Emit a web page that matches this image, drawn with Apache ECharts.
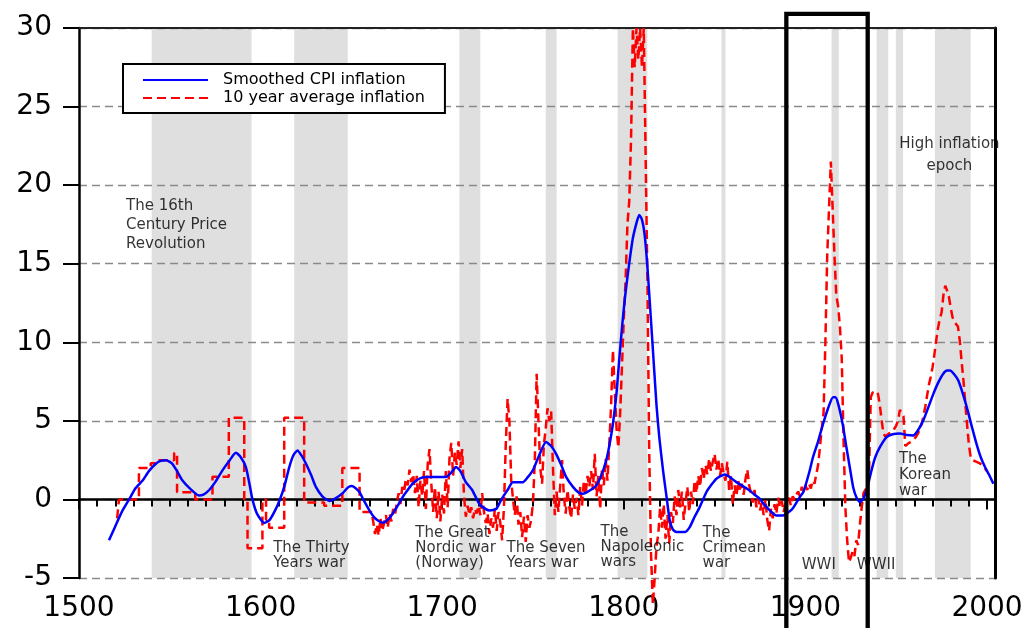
<!DOCTYPE html>
<html><head><meta charset="utf-8">
<script src="https://cdn.jsdelivr.net/npm/echarts@6/dist/echarts.min.js"></script>
<style>html,body{margin:0;padding:0;background:#fff}#c{width:1033px;height:628px}</style>
</head><body><div id="c"></div>
<script>
// ---------------- data ----------------
const seriesNames = ['Smoothed CPI inflation', '10 year average inflation'];

// Smoothed CPI inflation [year, %]
const blueEarly = [
[1516.5,-2.6],[1520,-1.7],[1524,-0.7],[1527.6,0],[1531,0.7],[1535,1.2],[1538.5,1.8],[1542.3,2.27],[1545,2.45],[1548,2.5],
[1551.4,2.27],[1554,1.8],[1557,1.2],[1561,0.7],[1566,0.25],[1568.5,0.3],[1571.7,0.6],[1575,1.1],[1579,1.85],[1583,2.5],
[1586.4,2.97],[1589,2.7],[1591.9,2.06],[1594,0.9],[1595.5,0],[1598,-0.9],[1602,-1.5],[1605,-1.3],[1608,-0.7],[1610.3,-0.1],
[1613,0.8],[1615.8,2.06],[1618,2.8],[1620.3,3.12],[1622.5,2.8],[1625,2.27],[1628,1.5],[1630.5,0.78],[1634,0.2],[1637.8,-0.1],
[1641,0.05],[1645.2,0.4],[1648,0.75],[1650,0.85],[1652,0.75],[1654.4,0.47],[1657,-0.1],[1659.9,-0.7],[1663,-1.2],[1667.2,-1.49],
[1670,-1.3],[1672.7,-0.91],[1675.5,-0.4],[1678.2,0.15],[1681,0.6],[1683.7,1.0],[1687,1.3],[1691,1.42],[1702,1.42],[1705,1.7],
[1707.6,2.06],[1710,1.8],[1713,1.1],[1716.5,0.6],[1720,-0.2],[1722.3,-0.49],[1726,-0.7],[1729.7,-0.6],[1731.5,-0.25],[1733.4,0.15],
[1736,0.6],[1738.9,1.1],[1744.4,1.1],[1747,1.4],[1749.9,1.85],[1753,2.7],[1757.2,3.65],[1760,3.4],[1762.7,2.9],[1765.5,2.2],
[1768.3,1.42],[1772,0.8],[1775,0.45],[1777.5,0.36],[1781,0.55],[1784.8,0.89],[1787.5,1.5],[1790.3,2.48],[1792,3.4],[1794,4.8],
[1796,6.8],[1797.7,9.2],[1799.3,11.3]
];
const blueLate = [
[1801,13.2],[1804.8,16.5],[1807,17.6],[1808.5,18.1],[1810,17.8],[1811.5,16.8],[1813,14.8],[1815.7,10.1],[1818,6.0],[1819.5,4.0],
[1821.6,1.85],[1823.5,0.2],[1825.3,-1.34],[1827,-1.9],[1828.9,-2.08],[1833.5,-2.08],[1836.3,-1.76],[1839,-1.1],[1841.8,-0.49],[1845.5,0.47],
[1848,0.9],[1851,1.32],[1855.6,1.59],[1858,1.45],[1862,1.1],[1865.5,0.85],[1869.3,0.57],[1872,0.3],[1874.9,0.04],[1877.5,-0.35],
[1880.4,-0.7],[1884,-1.02],[1887.7,-1.02],[1891.4,-0.75],[1893.2,-0.55],[1896.9,0.15],[1899,0.5],[1902.4,1.85],[1904.2,2.7],[1907,3.7],
[1909.7,4.8],[1912.5,5.8],[1915.2,6.5],[1916.5,6.5],[1918,6.1],[1920.5,4.8],[1922.6,3.3],[1924.5,2.0],[1926.3,0.78],[1928.2,0.1],
[1930,-0.17],[1931.8,0.05],[1933.7,0.57],[1936.4,1.85],[1938.5,2.7],[1941,3.33],[1944.7,3.97],[1948,4.15],[1952,4.2],[1956,4.1],
[1959.4,4.07],[1962,4.4],[1964.9,5.03],[1967.5,5.8],[1970.4,6.7],[1973,7.4],[1975.9,8.0],[1978,8.2],[1979.6,8.2],[1982,7.95],
[1984.2,7.57],[1986.5,6.8],[1988.8,5.9],[1991.5,4.7],[1994.3,3.5],[1996.5,2.7],[1998.9,2.06],[2001,1.6],[2003.5,1.0]
];

// 10 year average inflation [year, %]
const redSteps = [
[1521,-1.2],[1522,-1.2],[1522,0],[1533,0],[1533,2.0],[1539.5,2.0],[1539.5,2.3],[1544,2.3],[1544,2.5],[1552.4,2.5],
[1552.4,2.95],[1554,2.95],[1554,0.45],[1564,0.45],[1564,0],[1573.5,0],[1573.5,1.45],[1582.5,1.45],[1582.5,5.2],[1591,5.2],
[1591,0],[1592.8,0],[1592.8,-3.1],[1601,-3.1],[1601,0],[1603,0],[1603,-1.3],[1604.7,-1.3],[1604.7,-1.8],[1613,-1.8],
[1613,5.2],[1624,5.2],[1624,-0.2],[1635,-0.2],[1635,-0.4],[1645,-0.4],[1645,2.0],[1654.5,2.0],[1654.5,-0.8],[1661,-0.8]
];
const red1700s = [
[1662,-1.4],[1663,-2.2],[1664,-1.6],[1665,-2.3],[1666,-1.2],[1667,-2.0],[1668,-1.5],[1669,-1.0],[1670,-1.8],[1671,-0.9],
[1672,-1.4],[1673,-0.6],[1674,-1.0],[1675,-0.2],[1676,0.4],[1677,-0.3],[1678,0.8],[1679,0.5],[1680,1.3],[1681,0.9],
[1682,1.9],[1683,1.1],[1684,1.6],[1685,0.4],[1686,1.5],[1687,-0.5],[1688,1.2],[1689,0.2],[1690,1.8],[1691,-0.6],
[1692,2.2],[1693,3.2],[1694,1.0],[1695,-0.8],[1696,0.8],[1697,-1.2],[1698,0.5],[1699,-1.4],[1700,0.3],[1701,-0.9],
[1702,1.8],[1703,-0.5],[1704,2.6],[1705,3.6],[1706,1.5],[1707,3.0],[1708,2.2],[1709,3.7],[1710,2.0],[1711,3.2],
[1712,0.2],[1713,-1.1],[1714,-0.4],[1715,-1.0],[1716,-0.5],[1717,-1.2],[1718,-0.6],[1719,-0.9],[1720,-0.4],[1721,-1.0],
[1722,0.4],[1723,-0.8],[1724,-1.5],[1725,-0.9],[1726,-2.2],[1727,-1.2],[1728,-1.8],[1729,-0.6],[1730,-2.0],[1731,-0.8],
[1732,-1.5],[1733,-2.6],[1734,-0.5],[1735,3.5],[1736,6.4],[1737,5.0],[1738,1.2],[1739,0.0],[1740,-1.0],[1741,0.2],
[1742,-1.6],[1743,-0.8],[1744,-2.4],[1745,-1.1],[1746,-2.7],[1747,-1.0],[1748,-1.8],[1749,-1.3],[1750,-0.2],[1751,2.5],
[1752,8.0],[1753,5.0],[1754,2.0],[1755,1.0],[1756,3.5],[1757,4.5],[1758,5.8],[1759,5.0],[1760,5.6],[1761,2.0],
[1762,-1.0],[1763,0.5],[1764,-0.8],[1765,0.9],[1766,2.5],[1767,0.2],[1768,-0.9],[1769,0.6],[1770,-0.5],[1771,-1.2],
[1772,0.3],[1773,-0.6],[1774,0.1],[1775,-1.0],[1776,0.8],[1777,-0.4],[1778,1.2],[1779,0.3],[1780,1.5],[1781,0.8],
[1782,1.8],[1783,0.6],[1784,2.9],[1785,0.2],[1786,1.5],[1787,-0.6],[1788,2.0],[1789,0.9],[1790,2.6],[1791,1.2],
[1792,3.5],[1793,6.0],[1794,9.5],[1795,7.0],[1796,4.5],[1797,3.3],[1798,5.5],[1799,8.5]
];
const red1800s = [
[1800,11.5],[1801,14.0],[1802,17.5],[1803,19.0],[1804,23.0],[1805,30.0],[1806,27.5],[1807,30.0],[1808,28.0],[1809,30.0],
[1810,27.5],[1811,30.0],[1812,30.0],[1813,14.0],[1814,3.0],[1815,-3.5],[1816,-6.7],[1817,-5.0],[1818,-3.0],[1819,-2.2],
[1820,-0.5],[1821,-1.8],[1822,-0.3],[1823,-2.5],[1824,-1.0],[1825,-2.8],[1826,-0.8],[1827,-1.5],[1828,0.2],[1829,-1.0],
[1830,0.6],[1831,-0.5],[1832,0.5],[1833,-1.3],[1834,-0.2],[1835,0.8],[1836,-0.8],[1837,0.5],[1838,-0.3],[1839,1.2],
[1840,0.4],[1841,1.5],[1842,0.8],[1843,2.0],[1844,1.3],[1845,2.2],[1846,1.6],[1847,2.6],[1848,1.8],[1849,2.4],
[1850,2.9],[1851,1.9],[1852,2.6],[1853,1.5],[1854,2.3],[1855,1.6],[1856,1.2],[1857,2.4],[1858,0.6],[1859,1.5],
[1860,-0.3],[1861,0.9],[1862,0.2],[1863,1.2],[1864,0.5],[1865,1.0],[1866,0.3],[1867,1.3],[1868,1.9],[1869,0.9],
[1870,0.4],[1871,-0.2],[1872,0.6],[1873,-0.5],[1874,0.1],[1875,-0.7],[1876,-0.2],[1877,-1.0],[1878,0.0],[1879,-1.3],
[1880,-2.0],[1881,-0.6],[1882,-1.2],[1883,-0.3],[1884,-0.9],[1885,0.1],[1886,-0.5],[1887,-0.1],[1888,-0.8],[1889,-0.3],
[1890,-0.2],[1891,0.1],[1892,-0.4],[1893,0.2],[1894,0.0],[1895,0.3],[1896,0.5],[1897,0.2],[1898,0.8],[1899,0.5]
];
const red1900s = [
[1900,0.9],[1901,0.6],[1902,1.0],[1903,0.7],[1904,1.2],[1905,1.0],[1906,1.6],[1907,2.2],[1908,3.3],[1909,4.5],
[1910,5.5],[1911,10.0],[1912,15.5],[1913,18.5],[1914,21.5],[1915,18.5],[1916,15.5],[1917,13.0],[1918,12.3],[1919,11.0],
[1920,9.0],[1921,3.8],[1922,-0.5],[1923,-2.6],[1924,-4.0],[1925,-3.7],[1926,-3.3],[1927,-3.6],[1928,-2.6],[1929,-2.9],
[1930,-1.6],[1931,-0.5],[1932,0.4],[1933,0.6],[1934,0.8],[1935,1.5],[1936,6.5],[1937,6.8],[1938,6.9],[1939,6.9],
[1940,6.7],[1941,6.0],[1942,5.0],[1943,4.2],[1944,4.0],[1945,4.1],[1946,4.2],[1947,4.2],[1948,4.3],[1949,4.5],
[1950,4.7],[1951,5.0],[1952,5.7],[1953,5.6],[1954,5.3],[1955,3.4],[1956,3.4],[1957,3.6],[1958,3.7],[1959,3.7],
[1960,3.8],[1961,4.0],[1962,4.2],[1963,4.3],[1964,4.8],[1965,5.3],[1966,5.9],[1967,6.6],[1968,7.3],[1969,7.8],
[1970,8.4],[1971,9.2],[1972,10.1],[1973,10.9],[1974,11.5],[1975,11.9],[1976,13.0],[1977,13.6],[1978,13.3],[1979,12.9],
[1980,12.2],[1981,11.6],[1982,11.3],[1983,11.2],[1984,11.0],[1985,10.1],[1986,8.8],[1987,7.6],[1988,6.2],[1989,4.8],
[1990,3.5],[1991,2.7],[1992,2.5],[1993,2.4],[1994,2.4],[1995,2.3],[1996,2.3],[1997,2.2],[1998,2.1],[1999,2.0],[2000,1.8]
];

// shaded war / episode periods [start year, end year]
const shadedPeriods = [
[1540,1595],[1618.5,1648],[1709.5,1721],[1757,1763],[1796.6,1813],
[1853.8,1856],[1914.4,1918.4],[1939.2,1945.6],[1949.8,1953.8],[1971.3,1991]
];

// annotation texts and their anchor (year, value)
const annoText = [
'The 16th\nCentury Price\nRevolution','The Thirty\nYears war','The Great\nNordic war\n(Norway)','The Seven\nYears war',
'The\nNapoleonic\nwars','The\nCrimean\nwar','WWI','WWII','The\nKorean\nwar','High inflation\nepoch'
];
const annoYear  = [1525.9,1606.9,1685.2,1735.4,1787.2,1843.4,1898.0,1928.3,1951.5,1979.3];
const annoValue = [17.44,-3.56,-3.09,-3.56,-3.06,-3.09,-4.2,-4.2,1.53,21.9];

// highlighted window (black frame)
const frameYears = [1889.5, 1934.3];
const frameValues = [-9, 30.9];

// axes
const xMin = 1500, xMax = 2004.4, xLabelStep = 100, xMinorStep = 10;
const yMin = -5, yMax = 30, yStep = 5;

// ---------------- chart ----------------
const FONT = 'DejaVu Sans';
const chart = echarts.init(document.getElementById('c'), null, {renderer: 'canvas'});

const annoLH = [19,15,15,15,15,15,15,15,16,22];
const annoAlign = ['left','left','left','left','left','left','left','left','left','center'];
const annoData = annoText.map((t, i) => ({
  value: [annoYear[i], annoValue[i]],
  label: {
    formatter: t, lineHeight: annoLH[i], align: annoAlign[i],
    position: annoAlign[i] === 'center' ? 'inside' : 'right'
  }
}));

const option = {
  animation: false,
  backgroundColor: '#fff',
  textStyle: {fontFamily: FONT},
  grid: {left: 79, right: 38, top: 28, bottom: 50, containLabel: false, outerBoundsMode: 'none'},
  legend: {
    data: seriesNames,
    orient: 'vertical', left: 123, top: 64,
    padding: [8, 20, 7, 19], itemGap: 2, itemWidth: 65, itemHeight: 14,
    borderColor: '#000', borderWidth: 2, borderRadius: 0, backgroundColor: '#fff',
    selectedMode: false,
    itemStyle: {opacity: 0},
    textStyle: {fontFamily: FONT, fontSize: 16, color: '#000', lineHeight: 16, padding: [0, 0, 0, 10]}
  },
  xAxis: [
    {
      type: 'value', min: xMin, max: xMax, interval: xMinorStep, position: 'bottom',
      axisLine: {show: true, lineStyle: {color: '#000', width: 2.5}},
      axisTick: {show: true, length: 7, lineStyle: {color: '#000', width: 2}},
      axisLabel: {show: true, margin: 17, color: '#000', fontFamily: FONT, fontSize: 28,
        formatter: v => (Math.abs(v % xLabelStep) < 1e-6 ? String(Math.round(v)) : '')},
      splitLine: {show: false}
    },
    {
      type: 'value', min: xMin, max: xMax, position: 'top',
      axisLine: {show: true, onZero: false, lineStyle: {color: '#222', width: 2}},
      axisTick: {show: false}, axisLabel: {show: false}, splitLine: {show: false}
    },
    {
      type: 'value', min: xMin, max: xMax, interval: xLabelStep, position: 'bottom',
      axisLine: {show: false},
      axisTick: {show: true, length: 10, lineStyle: {color: '#000', width: 2}},
      axisLabel: {show: false}, splitLine: {show: false}
    }
  ],
  yAxis: [
    {
      type: 'value', min: yMin, max: yMax, interval: yStep, position: 'left',
      axisLine: {show: true, onZero: false, lineStyle: {color: '#000', width: 2.5}},
      axisTick: {show: true, length: 16, lineStyle: {color: '#000', width: 2}},
      axisLabel: {show: true, margin: 27, color: '#000', fontFamily: FONT, fontSize: 28},
      splitLine: {show: true, lineStyle: {color: '#8a8a8a', width: 1.3, type: [8, 5]}}
    },
    {
      type: 'value', min: yMin, max: yMax, position: 'right',
      axisLine: {show: true, onZero: false, lineStyle: {color: '#000', width: 3}},
      axisTick: {show: false}, axisLabel: {show: false}, splitLine: {show: false}
    }
  ],
  series: [
    {
      name: 'periods', type: 'line', data: [], silent: true, z: 0,
      markArea: {
        silent: true, z: -1,
        itemStyle: {color: '#dfdfdf'},
        label: {show: false},
        data: shadedPeriods.map(p => [{xAxis: p[0]}, {xAxis: p[1]}])
      }
    },
    {
      name: seriesNames[1], type: 'line',
      data: redSteps.concat(red1700s, red1800s, red1900s),
      symbol: 'none', clip: false, z: 3,
      itemStyle: {color: '#ff0000'},
      lineStyle: {color: '#ff0000', width: 2.5, type: [9, 5]}
    },
    {
      name: seriesNames[0], type: 'line',
      data: blueEarly.concat(blueLate),
      symbol: 'none', smooth: 0.2, z: 4,
      itemStyle: {color: '#0000ff'},
      lineStyle: {color: '#0000ff', width: 2.5},
      markLine: {
        silent: true, z: 2, symbol: ['none', 'none'], label: {show: false},
        lineStyle: {color: '#000', width: 1.2, type: 'solid'},
        data: [{yAxis: 0}]
      }
    },
    {
      name: 'annotations', type: 'scatter', data: annoData, symbolSize: 0, clip: false, z: 6, silent: true,
      label: {show: true, color: '#000', fontFamily: FONT, fontSize: 15, distance: 0, verticalAlign: 'middle'}
    },
    {
      name: 'frame', type: 'line', silent: true, clip: false, z: 10, symbol: 'none',
      data: [[frameYears[0], frameValues[0]], [frameYears[0], frameValues[1]],
             [frameYears[1], frameValues[1]], [frameYears[1], frameValues[0]]],
      lineStyle: {color: '#000', width: 4.3, join: 'miter'}
    }
  ]
};
chart.setOption(option);
</script>
</body></html>
